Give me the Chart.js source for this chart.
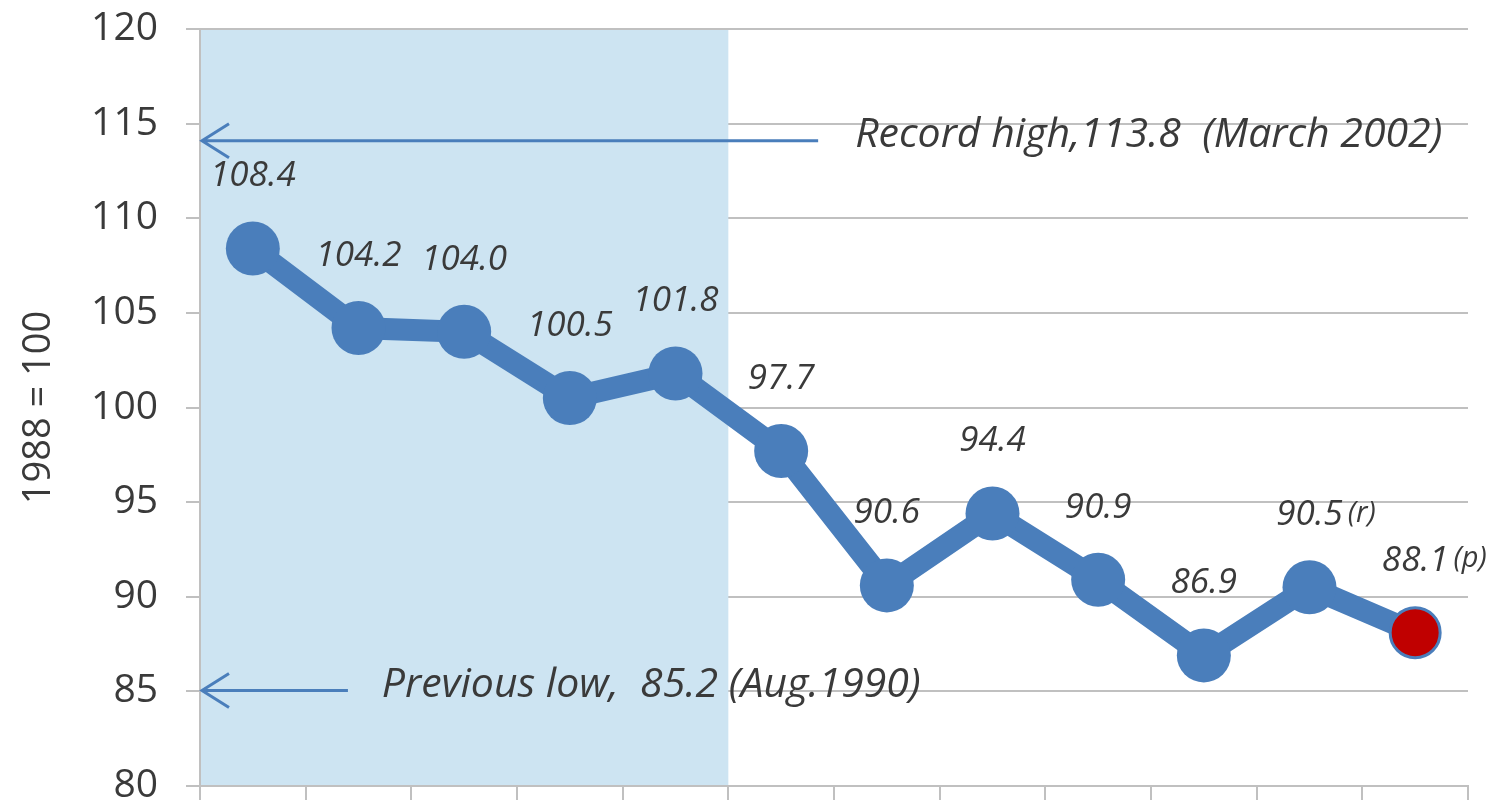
<!DOCTYPE html>
<html lang="en">
<head>
<meta charset="UTF-8">
<title>Index 1988 = 100</title>
<script src="https://cdn.jsdelivr.net/npm/chart.js@4.4.0/dist/chart.umd.min.js"></script>
<style>
  html, body { margin: 0; padding: 0; background: #fff; }
  #wrap { width: 1502px; height: 801px; }
</style>
</head>
<body>
<div id="wrap"><canvas id="chart" width="1502" height="801"></canvas></div>
<script>
// data
const periods = ['1', '2', '3', '4', '5', '6', '7', '8', '9', '10', '11', '12'];
const values = [108.4, 104.2, 104.0, 100.5, 101.8, 97.7, 90.6, 94.4, 90.9, 86.9, 90.5, 88.1];
const valueTags = ['', '', '', '', '', '', '', '', '', '', '(r)', '(p)'];
const yTicks = [80, 85, 90, 95, 100, 105, 110, 115, 120];
const shadedCount = 5;   // first five periods shaded

// reference notes: [text, arrow y value, arrow tail (category index), text start (category index)]
const notes = [
  ['Record high,113.8  (March 2002)', 114.1, 5.35, 5.7],
  ['Previous low,  85.2 (Aug.1990)', 85.05, 0.9, 1.22]
];

const BLUE = '#4a7ebb';
const RED = '#c00000';
const TXT = '#3a3a3a';
const FONT = "'Open Sans', 'Noto Sans', sans-serif";

const shadePlugin = {
  id: 'shade',
  beforeDatasetsDraw(chart) {
    const { ctx, chartArea, scales } = chart;
    const x = scales.x;
    const xEnd = x.getPixelForValue(shadedCount - 0.5);
    ctx.save();
    ctx.fillStyle = '#cde4f2';
    ctx.fillRect(chartArea.left + 1, chartArea.top + 1, xEnd - chartArea.left - 1, chartArea.bottom - chartArea.top - 2);

    // arrows + notes
    const y = scales.y;
    notes.forEach(n => {
      const ay = y.getPixelForValue(n[1]);
      const tail = x.getPixelForValue(n[2]);
      const tip = chartArea.left + 2;
      ctx.strokeStyle = BLUE;
      ctx.lineWidth = 3;
      ctx.beginPath();
      ctx.moveTo(tail, ay);
      ctx.lineTo(tip, ay);
      ctx.moveTo(tip + 27, ay - 17);
      ctx.lineTo(tip, ay);
      ctx.lineTo(tip + 27, ay + 17);
      ctx.stroke();
      ctx.fillStyle = TXT;
      ctx.font = 'italic 41px ' + FONT;
      ctx.textAlign = 'left';
      ctx.textBaseline = 'middle';
      ctx.fillText(n[0], x.getPixelForValue(n[3]), ay - 5);
    });
    ctx.restore();
  },
  afterDatasetsDraw(chart) {
    const { ctx } = chart;
    const meta = chart.getDatasetMeta(0);
    ctx.save();
    ctx.fillStyle = TXT;
    ctx.textBaseline = 'middle';
    meta.data.forEach((pt, i) => {
      const label = values[i].toFixed(1);
      const ly = pt.y - 72;
      ctx.font = 'italic 35px ' + FONT;
      ctx.textAlign = 'center';
      ctx.fillText(label, pt.x, ly);
      if (valueTags[i]) {
        const w = ctx.measureText(label).width;
        ctx.font = 'italic 29px ' + FONT;
        ctx.textAlign = 'left';
        ctx.fillText(valueTags[i], pt.x + w / 2 + 5, ly - 2);
      }
    });
    ctx.restore();
  }
};

new Chart(document.getElementById('chart'), {
  type: 'line',
  data: {
    labels: periods,
    datasets: [{
      data: values,
      borderColor: BLUE,
      borderWidth: 22,
      pointRadius: values.map((v, i) => i === values.length - 1 ? 25 : 27),
      pointBackgroundColor: values.map((v, i) => i === values.length - 1 ? RED : BLUE),
      pointBorderColor: BLUE,
      pointBorderWidth: values.map((v, i) => i === values.length - 1 ? 3 : 0),
      tension: 0,
      clip: false
    }]
  },
  options: {
    responsive: false,
    animation: false,
    layout: { autoPadding: false, padding: { left: 16, right: 34, top: 29, bottom: 0 } },
    plugins: { legend: { display: false }, tooltip: { enabled: false } },
    scales: {
      x: {
        offset: true,
        grid: { offset: true, drawOnChartArea: false, drawTicks: true, tickLength: 14, color: '#c0c0c0', lineWidth: 2 },
        border: { color: '#c0c0c0', width: 2 },
        ticks: { display: false },
        afterFit(s) { s.height = 15; }
      },
      y: {
        min: 80,
        max: 120,
        afterBuildTicks(s) { s.ticks = yTicks.map(v => ({ value: v })); },
        grid: { color: '#c0c0c0', lineWidth: 2, tickLength: 14 },
        border: { color: '#c0c0c0', width: 2 },
        ticks: { color: TXT, padding: 28, font: { family: FONT, size: 39 } },
        title: { display: true, text: '1988 = 100', color: TXT, font: { family: FONT, size: 38 }, padding: 0 },
        afterFit(s) { s.width = 200 - 16; s.paddingTop = 0; s.paddingBottom = 0; }
      }
    }
  },
  plugins: [shadePlugin]
});
</script>
</body>
</html>
